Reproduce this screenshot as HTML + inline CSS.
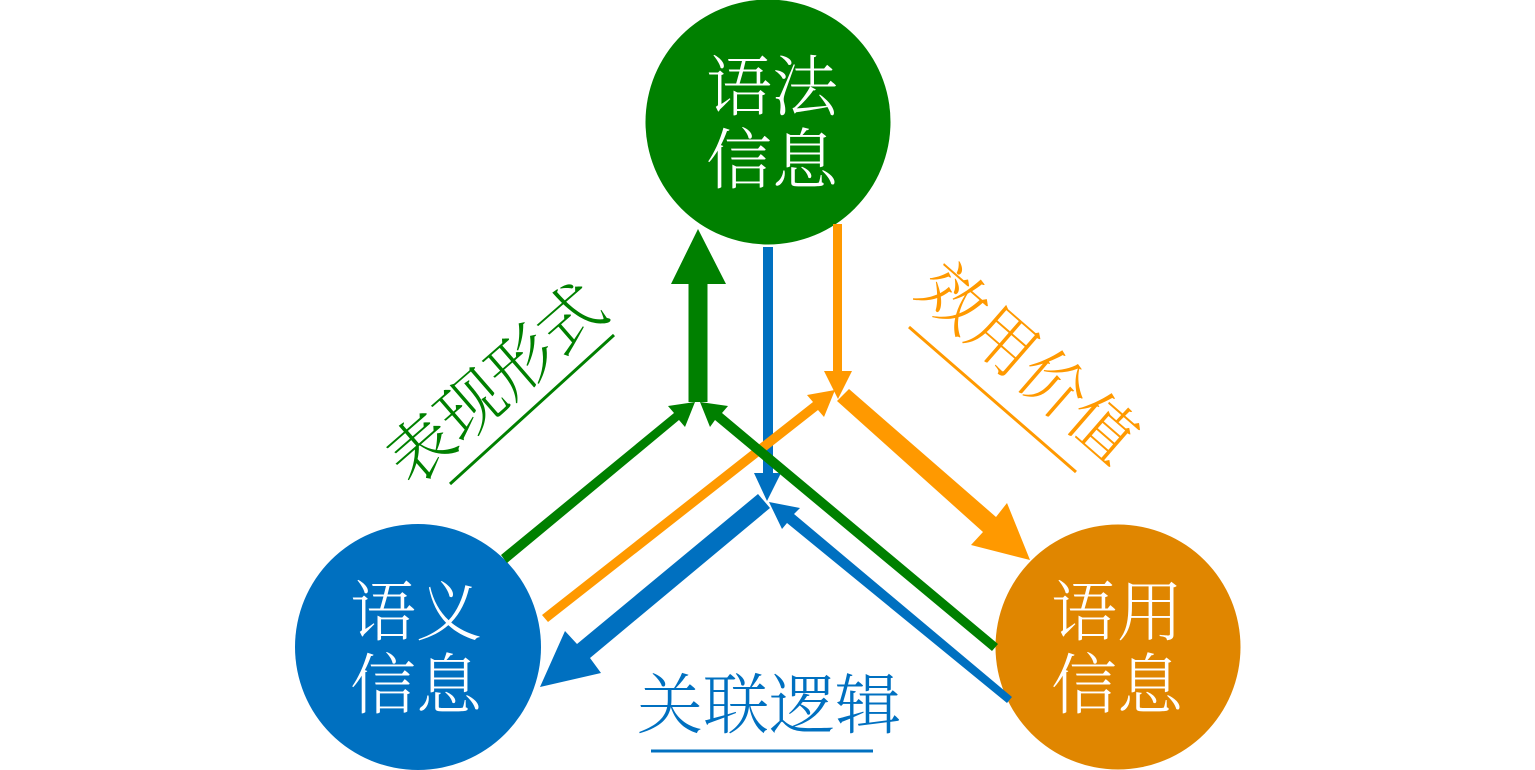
<!DOCTYPE html>
<html><head><meta charset="utf-8">
<style>
html,body{margin:0;padding:0;background:#fff;width:1535px;height:770px;overflow:hidden}
svg{display:block}
text{font-family:"Liberation Serif","Noto Serif CJK SC",serif;font-weight:300;text-anchor:middle}
</style></head>
<body>
<svg width="1535" height="770" viewBox="0 0 1535 770" xmlns="http://www.w3.org/2000/svg">
<circle cx="768" cy="122" r="122.5" fill="#008000"/>
<circle cx="418" cy="647" r="123" fill="#0070c0"/>
<circle cx="1118" cy="647" r="122.5" fill="#e08600"/>

<g font-size="66" fill="#fff">
<text x="772" y="110">语法</text>
<text x="772" y="183">信息</text>
<text x="416" y="635">语义</text>
<text x="416" y="708">信息</text>
<text x="1117" y="635">语用</text>
<text x="1117" y="708">信息</text>
</g>

<!-- green thick up -->
<polygon points="688.5,402 688.5,284 671,284 698,229 726,284 707.5,284 707.5,402" fill="#008000"/>
<!-- blue vertical -->
<polygon points="763,247 773,247 773,473 781,473 767,501 754,473 763,473" fill="#0070c0"/>
<!-- orange vertical -->
<polygon points="833,224 842,224 842,371 852,371 838,399 824,371 833,371" fill="#ff9900"/>
<!-- orange thick -->
<polygon points="837,401 849,389 996,517 1007,503 1030,560 971,545 983,532" fill="#ff9900"/>
<!-- blue thick -->
<polygon points="758,494 770,508 590,658 601,673 540,687 565,631 577,644" fill="#0070c0"/>
<!-- blue thin -->
<polygon points="1012,697 1007,703 787,523 782,529 769,502 800,508 794,514" fill="#0070c0"/>
<!-- orange diagonal -->
<polygon points="542,615 548,622 818,410 824,417 835,390 807,395 813,402" fill="#ff9900"/>
<!-- green left -->
<polygon points="501,555 507,563 679,420 685,427 695,402 668,406 674,413" fill="#008000"/>
<!-- green right -->
<polygon points="998,644 992,651 715,420 710,427 700,402 728,406 722,413" fill="#008000"/>

<line x1="450" y1="484" x2="614" y2="335" stroke="#008000" stroke-width="3"/>
<line x1="909" y1="327" x2="1076" y2="472" stroke="#ff9900" stroke-width="3"/>
<line x1="651" y1="751" x2="873" y2="751" stroke="#0070c0" stroke-width="3"/>

<text x="0" y="0" font-size="66" fill="#008000" transform="translate(496,384) rotate(-41) translate(0,23)">表现形式</text>
<text x="0" y="0" font-size="66" fill="#ff9900" transform="translate(1028,363) rotate(41) translate(0,23)">效用价值</text>
<text x="769" y="728" font-size="66" fill="#0070c0">关联逻辑</text>
</svg>
</body></html>
